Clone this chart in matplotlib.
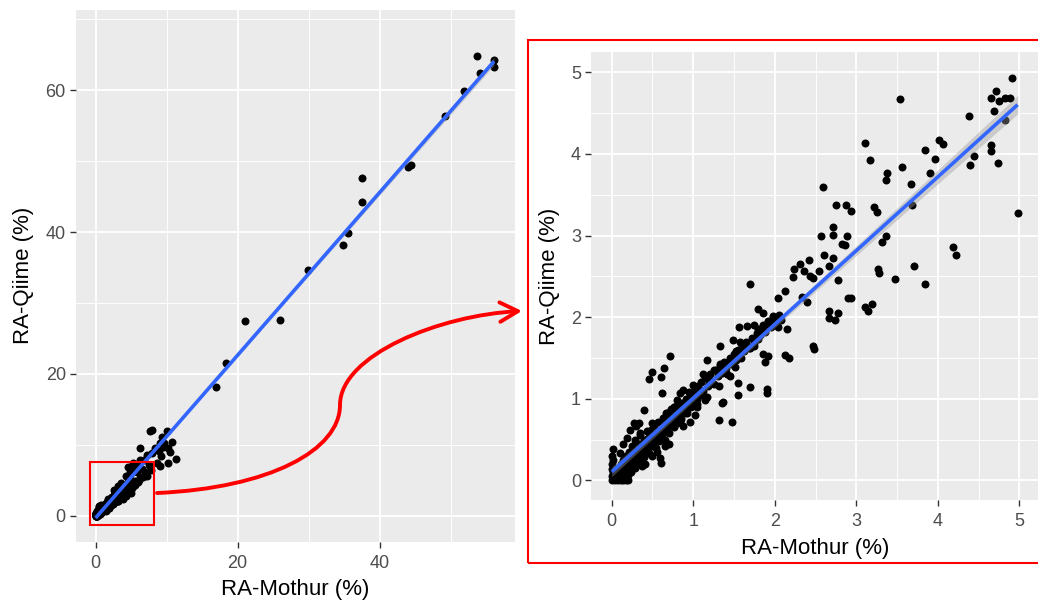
import numpy as np
import matplotlib.pyplot as plt
from matplotlib.patches import Rectangle, FancyArrowPatch, ArrowStyle
from matplotlib.path import Path

plt.rcParams['font.family'] = ['Liberation Sans', 'DejaVu Sans']

W, H = 1038, 600

# Relative abundance (%) of taxa: Mothur (x) vs Qiime (y), values <= 5
mothur_low = [
    0, 0, 0.01, 0, 0, 0.01, 0, 0.01, 0.04, 0.08, 0.11, 0.14, 0.17, 0.2,
    0.03, 0.05, 0.06, 0.08, 0.09, 0.1, 0.11, 0.12, 0.13, 0.14, 0.15, 0.16, 0.17, 0.18,
    0.19, 0.2, 0.21, 0.22, 0.23, 0.24, 0.25, 0.26, 0.27, 0.28, 0.29, 0.3, 0.31, 0.32,
    0.33, 0.34, 0.35, 0.36, 0.37, 0.38, 0.39, 0.4, 0.41, 0.42, 0.43, 0.44, 0.45, 0.46,
    0.47, 0.48, 0.49, 0.5, 0.51, 0.52, 0.53, 0.54, 0.55, 0.56, 0.57, 0.58, 0.59, 0.61,
    0.6, 0.62, 0.63, 0.64, 0.65, 0.66, 0.67, 0.68, 0.69, 0.7, 0.71, 0.72, 0.73, 0.74,
    0.75, 0.76, 0.77, 0.78, 0.79, 0.8, 0.81, 0.82, 0.83, 0.85, 0.86, 0.87, 0.88, 0.9,
    0.91, 0.92, 0.94, 0.95, 0.97, 0.98, 1.0, 1.02, 1.05, 1.06, 1.08, 1.1, 1.12, 1.15,
    1.18, 1.2, 1.22, 1.25, 1.28, 1.3, 1.33, 1.35, 1.38, 1.4, 1.42, 1.45, 1.48, 1.5,
    1.52, 1.55, 1.58, 1.6, 1.62, 1.65, 1.68, 1.72, 1.75, 1.8, 1.82, 1.85, 1.88, 1.92,
    1.95, 1.98, 2.0, 2.05, 2.08,
    0.1, 0.14, 0.19, 0.23, 0.3, 0.35, 0.4, 0.27, 0.33, 0.49, 0.4, 0.63, 0.88, 0.96,
    0.76, 1.04, 1.31, 1.48, 1.35, 1.14, 0.84, 0.37, 0.41, 0.26, 0.16, 0.08, 0.5, 0.55,
    0.7, 0.65,
    0.72, 0.64, 0.49, 0.46, 0.6, 0.62, 1.17, 1.33, 1.43, 1.25, 1.37, 1.12, 1.45, 1.51,
    1.0, 1.19, 1.31, 1.55, 1.55, 1.7, 1.9, 1.91, 1.17, 1.36, 0.88, 0.84, 0.96, 1.04,
    0.8, 0.76, 0.67, 0.92, 1.02,
    1.7, 2.13, 2.04, 2.34, 2.4, 2.9, 2.94, 1.8, 1.86, 2.66, 2.77, 2.67, 2.74, 3.11,
    3.19, 3.15, 1.98, 2.02, 1.9, 2.04, 2.15, 1.86, 1.66, 1.74, 1.56, 1.78, 1.79, 1.49,
    1.57, 1.74, 1.7, 1.33, 2.47, 2.48, 1.53, 1.86, 1.92, 2.13, 2.18, 1.88,
    2.57, 2.72, 2.89, 2.82, 2.86, 3.31, 3.37, 4.19, 4.22, 2.6, 2.72, 2.66, 2.31, 2.24,
    2.22, 2.42, 2.43, 2.47, 2.54, 2.36, 2.77, 3.27, 3.28, 3.47, 3.71, 3.84,
    4.91, 3.54, 4.65, 4.71, 4.75, 4.83, 4.89, 4.69, 4.38, 4.82, 4.01, 4.07, 3.11, 3.84,
    4.65, 4.65, 3.17, 3.96, 3.56, 3.9, 3.38, 3.36, 4.44, 4.39, 4.74, 3.67, 2.59, 2.75,
    2.88, 2.94, 3.22, 3.25, 3.68, 4.98, 2.71,
]
qiime_low = [
    0, 0.05, 0.1, 0.14, 0.2, 0.25, 0.3, 0.38, 0, 0, 0, 0, 0, 0,
    0.04, 0.08, 0.12, 0.06, 0.15, 0.1, 0.2, 0.05, 0.14, 0.25, 0.09, 0.18, 0.3, 0.12,
    0.22, 0.06, 0.35, 0.16, 0.26, 0.1, 0.42, 0.2, 0.3, 0.15, 0.5, 0.25, 0.36, 0.2,
    0.44, 0.3, 0.58, 0.24, 0.4, 0.33, 0.5, 0.28, 0.45, 0.37, 0.6, 0.4, 0.52, 0.33,
    0.47, 0.62, 0.42, 0.55, 0.45, 0.68, 0.5, 0.4, 0.6, 0.52, 0.72, 0.48, 0.27, 0.21,
    0.62, 0.55, 0.76, 0.6, 0.5, 0.7, 0.62, 0.82, 0.66, 0.58, 0.75, 0.68, 0.87, 0.72,
    0.8, 0.65, 0.9, 0.76, 0.84, 0.7, 0.92, 0.8, 0.88, 0.75, 0.95, 0.85, 0.9, 0.82,
    1.0, 0.88, 0.95, 1.08, 0.9, 1.02, 0.95, 1.1, 1.0, 1.15, 1.05, 1.2, 1.1, 1.25,
    1.15, 1.3, 1.22, 1.18, 1.35, 1.28, 1.4, 1.32, 1.45, 1.38, 1.3, 1.5, 1.42, 1.55,
    1.48, 1.6, 1.5, 1.65, 1.58, 1.7, 1.62, 1.75, 1.68, 1.85, 1.78, 1.9, 1.82, 1.95,
    1.88, 2.0, 1.93, 2.02, 1.97,
    0.33, 0.45, 0.52, 0.62, 0.66, 0.55, 0.47, 0.7, 0.7, 0.7, 0.86, 0.74, 0.66, 0.72,
    0.9, 0.9, 0.74, 0.71, 0.95, 0.98, 0.71, 0.17, 0.2, 0.18, 0.1, 0.1, 0.3, 0.35,
    0.45, 0.42,
    1.52, 1.38, 1.33, 1.24, 1.27, 1.07, 1.47, 1.43, 1.45, 1.35, 1.37, 1.3, 1.28, 1.39,
    1.17, 1.19, 1.15, 1.19, 1.05, 1.14, 1.12, 1.07, 1.02, 0.96, 1.11, 1.07, 1.05, 0.94,
    0.98, 0.9, 0.82, 0.82, 0.8,
    2.41, 2.32, 2.24, 2.25, 2.19, 2.23, 2.23, 2.1, 2.05, 2.07, 2.05, 1.99, 1.96, 2.13,
    2.16, 2.07, 2.01, 1.96, 1.92, 1.88, 1.85, 1.88, 1.89, 1.9, 1.88, 1.8, 1.73, 1.72,
    1.7, 1.64, 1.62, 1.64, 1.64, 1.61, 1.59, 1.55, 1.52, 1.54, 1.5, 1.45,
    2.99, 3.01, 2.99, 2.9, 2.88, 2.92, 2.99, 2.86, 2.76, 2.76, 2.73, 2.63, 2.65, 2.59,
    2.49, 2.7, 2.5, 2.48, 2.57, 2.57, 2.45, 2.59, 2.54, 2.47, 2.63, 2.41,
    4.93, 4.67, 4.68, 4.77, 4.65, 4.68, 4.68, 4.53, 4.46, 4.41, 4.17, 4.12, 4.13, 4.05,
    4.11, 4.04, 3.93, 3.94, 3.84, 3.77, 3.76, 3.68, 3.97, 3.86, 3.89, 3.63, 3.6, 3.37,
    3.37, 3.3, 3.35, 3.29, 3.37, 3.27, 3.1,
]

# Values above 5 % (only in the full-range panel)
mothur_high = [
    4.5, 4.8, 4.3, 4.9, 5.0, 5.2, 4.6, 5.3, 5.6, 6.0,
    5.2, 5.5, 5.8, 6.0, 6.2, 6.5, 6.8, 7.0, 7.3, 7.5, 7.8, 8.0, 8.3, 8.6, 8.9, 9.2,
    9.6, 10.2, 10.8, 5.1, 5.6, 6.1, 6.6, 7.2, 5.3, 6.3,
    7.65, 10.1, 6.3, 11.3, 9.06, 9.5, 10.5, 7.9, 9.3, 10.2, 9.1,
    16.9, 18.3, 21.1, 25.9, 29.9, 34.9, 35.5, 37.5, 37.5, 44.0, 44.4, 49.2, 51.9,
    54.1, 56.1, 56.1, 53.7,
]
qiime_high = [
    5.3, 5.8, 5.6, 6.2, 6.6, 7.0, 6.9, 4.2, 4.6, 4.8,
    6.8, 4.9, 6.1, 7.2, 5.3, 6.6, 7.8, 6.2, 8.5, 7.1, 6.5, 8.8, 9.6, 7.5, 9.1, 8.4,
    10.3, 9.5, 10.4, 3.9, 4.4, 5.0, 5.4, 5.6, 7.4, 7.9,
    11.98, 12.0, 9.5, 7.95, 10.2, 9.7, 9.0, 12.1, 11.1, 7.4, 7.0,
    18.1, 21.6, 27.5, 27.6, 34.6, 38.2, 39.8, 44.2, 47.6, 49.1, 49.4, 56.3, 59.9,
    62.4, 63.2, 64.2, 64.8,
]

mothur_all = np.array(mothur_low + mothur_high)
qiime_all = np.array(qiime_low + qiime_high)
mothur_sub = np.array(mothur_low)
qiime_sub = np.array(qiime_low)

BG = '#EBEBEB'


def gg_axes(ax, xlim, ylim, xmajor, ymajor, xminor, yminor):
    ax.set_facecolor(BG)
    ax.set_xticks(xmajor)
    ax.set_yticks(ymajor)
    ax.set_xticks(xminor, minor=True)
    ax.set_yticks(yminor, minor=True)
    ax.set_xlim(xlim)
    ax.set_ylim(ylim)
    ax.grid(which='major', color='white', lw=1.3)
    ax.grid(which='minor', color='white', lw=0.65)
    ax.set_axisbelow(True)
    for s in ax.spines.values():
        s.set_visible(False)
    ax.tick_params(which='major', length=4.3, width=1, color='#333333',
                   labelcolor='#4D4D4D', labelsize=13)
    ax.tick_params(axis='x', which='major', pad=5)
    ax.tick_params(axis='y', which='major', pad=3)
    ax.tick_params(which='minor', length=0)


def lm_smooth(ax, x, y):
    slope, intercept = np.polyfit(x, y, 1)
    xs = np.linspace(x.min(), x.max(), 80)
    ys = slope * xs + intercept
    n = len(x)
    resid = y - (slope * x + intercept)
    s = np.sqrt(np.sum(resid ** 2) / (n - 2))
    se = s * np.sqrt(1 / n + (xs - x.mean()) ** 2 / np.sum((x - x.mean()) ** 2))
    ax.fill_between(xs, ys - 1.96 * se, ys + 1.96 * se, color='#999999',
                    alpha=0.4, lw=0, zorder=3)
    ax.plot(xs, ys, color='#3366FF', lw=2.6, zorder=4, solid_capstyle='butt')


fig = plt.figure(figsize=(W / 100, H / 100), dpi=100)

# Full range panel
ax1 = fig.add_axes([0.0732, 0.0972, 0.4229, 0.8861])
gg_axes(ax1, (-2.77, 59.05), (-3.66, 71.3), [0, 20, 40], [0, 20, 40, 60],
        [10, 30, 50], [10, 30, 50, 70])
ax1.scatter(mothur_all, qiime_all, s=33, c='black', linewidths=0, zorder=2)
lm_smooth(ax1, mothur_all, qiime_all)
ax1.add_patch(Rectangle((-0.85, -1.31), 9.1, 8.84, fill=False, ec='red',
                        lw=1.5, zorder=5))
ax1.set_xlabel('RA-Mothur (%)', fontsize=16, labelpad=5)
ax1.set_ylabel('RA-Qiime (%)', fontsize=16, labelpad=8)

# Zoomed panel (0-5 %)
ax2 = fig.add_axes([0.5694, 0.1667, 0.4322, 0.7461])
gg_axes(ax2, (-0.254, 5.25), (-0.241, 5.245), range(6), range(6),
        np.arange(0.5, 5.0, 1), np.arange(0.5, 5.0, 1))
ax2.scatter(mothur_sub, qiime_sub, s=33, c='black', linewidths=0, zorder=2)
lm_smooth(ax2, mothur_sub, qiime_sub)
ax2.set_xlabel('RA-Mothur (%)', fontsize=16, labelpad=6)
ax2.set_ylabel('RA-Qiime (%)', fontsize=16, labelpad=8)


def fxy(px, py):
    return (px / W, 1 - py / H)


# Red frame around zoomed panel
x0, y0 = fxy(528, 563)
x1, y1 = fxy(1045, 40)
fig.add_artist(Rectangle((x0, y0), x1 - x0, y1 - y0, fill=False, ec='red',
                         lw=1.5, transform=fig.transFigure, clip_on=False))

# Curved arrow from the small box to the zoomed panel
verts = [fxy(157, 493), fxy(270, 488), fxy(340, 450), fxy(340, 405),
         fxy(340, 355), fxy(440, 315), fxy(522, 311)]
codes = [Path.MOVETO] + [Path.CURVE4] * 6
arrow = FancyArrowPatch(path=Path(verts, codes),
                        arrowstyle=ArrowStyle('->', head_length=13, head_width=7),
                        color='red', lw=2.8, mutation_scale=1,
                        transform=fig.transFigure)
fig.add_artist(arrow)

fig.savefig('out.png', dpi=100)
